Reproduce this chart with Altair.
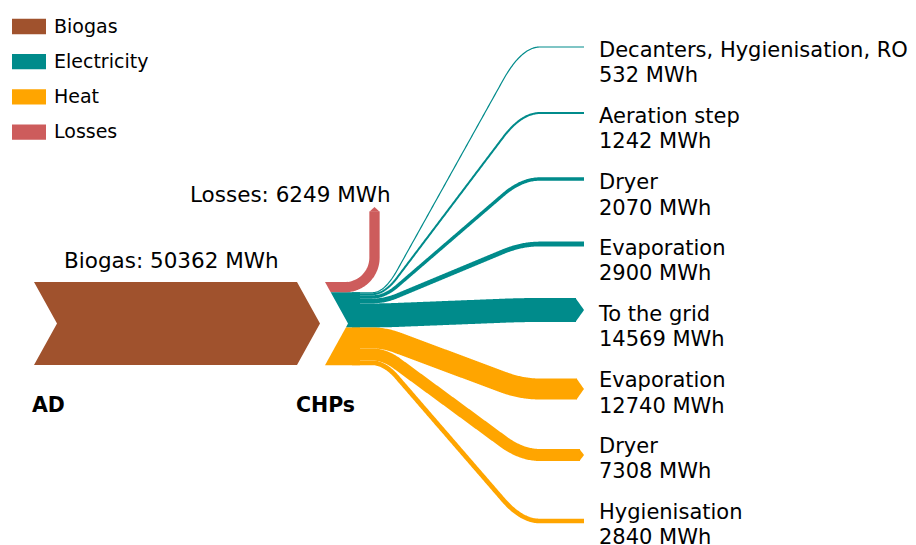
import numpy as np
import pandas as pd
import altair as alt

# ---------------- data (MWh) ----------------
kinds = ["Biogas", "Electricity", "Heat", "Losses"]
kind_colors = ["#A0522D", "#008B8B", "#FFA500", "#CD5C5C"]

biogas_mwh = 50362
losses_mwh = 6249

elec_names = ["Decanters, Hygienisation, RO", "Aeration step", "Dryer", "Evaporation", "To the grid"]
elec_mwh = [532, 1242, 2070, 2900, 14569]

heat_names = ["Evaporation", "Dryer", "Hygienisation"]
heat_mwh = [12740, 7308, 2840]

# ---------------- layout (sankey geometry, px space) ----------------
K = 83.0 / biogas_mwh          # band thickness per MWh
TOP = 282.0                    # top of the AD / CHP column
DEPTH = 23.0                   # chevron depth
AD_LEFT, AD_RIGHT = 34.0, 297.0
CHP_LEFT, CHP_NODE_RIGHT, LOSS_NODE_RIGHT = 325.0, 360.0, 350.0
LINE_X0, CURVE_X0, CURVE_X1, X_END = 352.0, 372.0, 540.0, 584.0
elec_target_y = [47, 113, 179, 244, 310]
heat_target_y = [389, 455, 521]
label_x = 599
elec_label_y = [50.5, 116.5, 183, 248.5, 314.5]
heat_label_y = [381, 446.5, 512.5]
LINE_GAP = 25.5
FS = 21.0


def ease(t, a=0.15, b=0.22):
    t = min(max(t, 0.0), 1.0)
    v = 1.0 / (1.0 - (a + b) / 2.0)
    if t < a:
        return v * t * t / (2 * a)
    if t <= 1 - b:
        return v * (a / 2 + t - a)
    s = 1 - t
    return 1 - v * s * s / (2 * b)


def chevron(y, x_outer, c, half):
    return x_outer + DEPTH * (1 - abs(y - c) / half)


h_rows, l_rows, t_rows = [], [], []

# AD block
bt = biogas_mwh * K
c_ad = TOP + bt / 2
for y in [TOP, c_ad, TOP + bt]:
    h_rows.append(dict(piece="AD", kind="Biogas", y=y,
                       x=chevron(y, AD_LEFT, c_ad, bt / 2),
                       x2=chevron(y, AD_RIGHT, c_ad, bt / 2)))

# CHP block sections
lt = losses_mwh * K
et = sum(elec_mwh) * K
ht = sum(heat_mwh) * K
tot = lt + et + ht
c_chp = TOP + tot / 2
sections = [("chp_loss", "Losses", TOP, TOP + lt, LOSS_NODE_RIGHT),
            ("chp_elec", "Electricity", TOP + lt, TOP + lt + et, CHP_NODE_RIGHT),
            ("chp_heat", "Heat", TOP + lt + et, TOP + tot, CHP_NODE_RIGHT)]
for piece, kind, y0, y1, xr in sections:
    ys = [y0, y1]
    if y0 < c_chp < y1:
        ys = [y0, c_chp, y1]
    for y in ys:
        h_rows.append(dict(piece=piece, kind=kind, y=y,
                           x=chevron(y, CHP_LEFT, c_chp, tot / 2), x2=xr))


def add_flow(piece, kind, sc, tc, w):
    tip = min(8.0, w / 3.0) if w >= 6 else 0.0
    x_line_end = X_END - tip
    xs = list(np.arange(LINE_X0, x_line_end, 1.0)) + [x_line_end]
    for i, x in enumerate(xs):
        t = (x - CURVE_X0) / (CURVE_X1 - CURVE_X0)
        l_rows.append(dict(piece=piece, kind=kind, i=i, x=float(x),
                           y=sc + (tc - sc) * ease(t), w=w))
    if tip > 0:
        x0 = x_line_end - 0.5
        for x in np.linspace(x0, X_END, 6):
            f = (X_END - x) / (X_END - x0)
            t_rows.append(dict(piece=piece, kind=kind, x=float(x),
                               y=tc - w / 2 * f, y2=tc + w / 2 * f))


# electricity flows (stacked from the top of the electricity band)
cur = TOP + lt
for j, v in enumerate(elec_mwh):
    w = v * K
    add_flow("e%d" % j, "Electricity", cur + w / 2, elec_target_y[j], max(w, 1.2))
    cur += w
# heat flows
cur = TOP + lt + et
for j, v in enumerate(heat_mwh):
    w = v * K
    add_flow("h%d" % j, "Heat", cur + w / 2, heat_target_y[j], max(w, 1.2))
    cur += w

# losses flow: right then up
yc = TOP + lt / 2
r = 29.5
cx, cy = 345.0, yc - r
pts = [(340.0, yc), (cx, yc)]
for th in np.linspace(0, np.pi / 2, 31)[1:]:
    pts.append((cx + r * np.sin(th), cy + r * np.cos(th)))
pts.append((cx + r, 211.5))
for i, (x, y) in enumerate(pts):
    l_rows.append(dict(piece="loss", kind="Losses", i=i, x=float(x), y=float(y), w=lt))
h_rows.append(dict(piece="loss_tip", kind="Losses", y=207.0, x=cx + r, x2=cx + r))
h_rows.append(dict(piece="loss_tip", kind="Losses", y=211.8, x=cx + r - lt / 2, x2=cx + r + lt / 2))

df_h = pd.DataFrame(h_rows)
df_l = pd.DataFrame(l_rows)
df_t = pd.DataFrame(t_rows)

# labels
txt = []
for j, n in enumerate(elec_names):
    txt.append(dict(x=label_x, y=elec_label_y[j], t=n, s=FS))
    txt.append(dict(x=label_x, y=elec_label_y[j] + LINE_GAP, t="%d MWh" % elec_mwh[j], s=FS))
for j, n in enumerate(heat_names):
    txt.append(dict(x=label_x, y=heat_label_y[j], t=n, s=FS))
    txt.append(dict(x=label_x, y=heat_label_y[j] + LINE_GAP, t="%d MWh" % heat_mwh[j], s=FS))
txt.append(dict(x=190, y=195.5, t="Losses: %d MWh" % losses_mwh, s=21.5))
txt.append(dict(x=64, y=261.5, t="Biogas: %d MWh" % biogas_mwh, s=21.5))
df_txt = pd.DataFrame(txt)
df_bold = pd.DataFrame([dict(x=32, y=405.5, t="AD", s=20.5), dict(x=296, y=405.5, t="CHPs", s=20.5)])

# ---------------- chart ----------------
W, H = 900, 537
xs_ = alt.Scale(domain=[8, 8 + W], nice=False, zero=False)
ys_ = alt.Scale(domain=[8, 8 + H], nice=False, zero=False, reverse=True)
X = alt.X("x:Q", scale=xs_, axis=None)
Y = alt.Y("y:Q", scale=ys_, axis=None)
cscale = alt.Scale(domain=kinds, range=kind_colors)

legend = alt.Legend(title=None, orient="none", legendX=4, legendY=1.5,
                    symbolType="M-1,-0.45L1,-0.45L1,0.45L-1,0.45Z", symbolSize=1156,
                    symbolStrokeWidth=0, symbolOpacity=1,
                    labelFont="DejaVu Sans", labelFontSize=19, labelColor="black",
                    labelOffset=8, rowPadding=8.2, padding=0)

nodes = alt.Chart(df_h).mark_area(orient="horizontal", opacity=1).encode(
    y=Y, x=X, x2="x2:Q", detail="piece:N",
    color=alt.Color("kind:N", scale=cscale, legend=legend))

flows = alt.Chart(df_l).mark_line(strokeCap="butt", strokeJoin="round").encode(
    x=X, y=Y, detail="piece:N", order="i:Q",
    color=alt.Color("kind:N", scale=cscale, legend=None),
    strokeWidth=alt.StrokeWidth("w:Q", scale=None, legend=None))

tips = alt.Chart(df_t).mark_area(orient="vertical", opacity=1).encode(
    x=X, y=Y, y2="y2:Q", detail="piece:N",
    color=alt.Color("kind:N", scale=cscale, legend=None))

labels = alt.Chart(df_txt).mark_text(font="DejaVu Sans", align="left", baseline="middle", color="black").encode(
    x=X, y=Y, text="t:N", size=alt.Size("s:Q", scale=None, legend=None))

bold = alt.Chart(df_bold).mark_text(font="DejaVu Sans", fontWeight="bold", align="left", baseline="middle", color="black").encode(
    x=X, y=Y, text="t:N", size=alt.Size("s:Q", scale=None, legend=None))

chart = alt.layer(nodes, flows, tips, labels, bold).properties(
    width=W, height=H, padding=0, autosize=alt.AutoSizeParams(type="none")
).configure_view(strokeWidth=0)

chart.save("out.html", embed_options={"renderer": "svg", "actions": False})
